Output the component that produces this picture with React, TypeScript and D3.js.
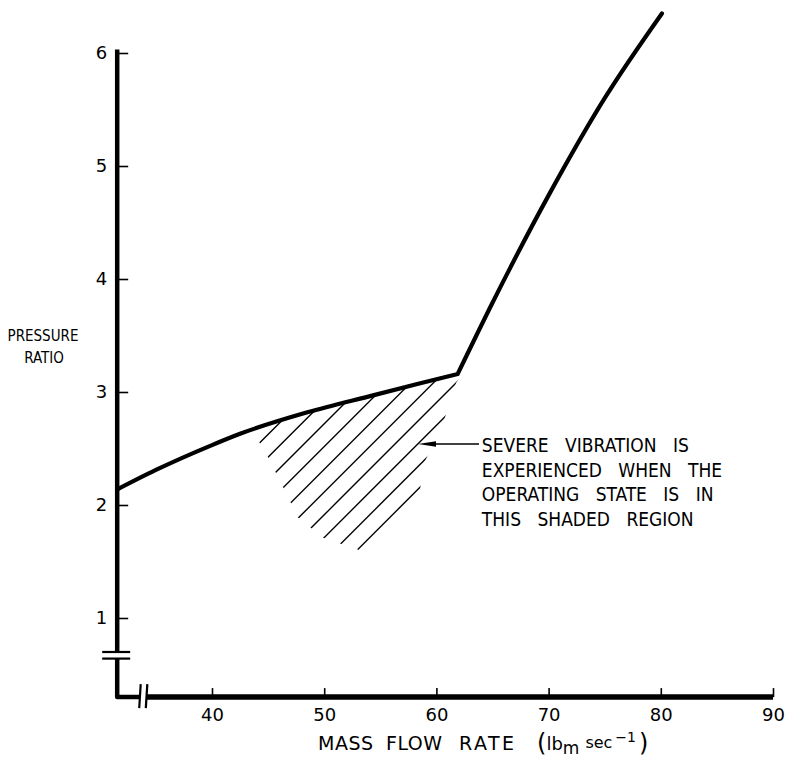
import React, { useRef, useEffect } from 'react';
import * as d3 from 'd3';

const W = 786;
const H = 765;

const xTicks = [40, 50, 60, 70, 80, 90];
const yTicks = [1, 2, 3, 4, 5, 6];

// surge line: the gentle part up to the kink, then the steep part
const lowFlow = [31.6, 35, 40, 42.5, 48.5, 54.35, 58.3, 61.9];
const lowRatio = [2.14, 2.31, 2.53, 2.63, 2.82, 2.97, 3.07, 3.16];
const highFlow = [61.9, 65, 70, 75, 80.1];
const highRatio = [3.16, 3.79, 4.74, 5.6, 6.35];

// outline of the shaded region (hatch is clipped to this and to the curve)
const shadeFlow = [43.83, 44.1, 44.99, 46.33, 47.66, 48.91, 49.89, 51.41, 52.92, 53.37, 58.54, 58.9, 60.68, 61.75, 63.0];
const shadeRatio = [2.93, 2.575, 2.425, 2.16, 1.89, 1.79, 1.71, 1.66, 1.61, 1.575, 2.14, 2.37, 2.75, 3.08, 3.28];
const hatchStart = [44.35, 2.56]; // a point on the first hatch line

const noteLines = ['SEVERE VIBRATION IS', 'EXPERIENCED WHEN THE', 'OPERATING STATE IS IN', 'THIS SHADED REGION'];
const noteAt = [64.05, 2.47];
const arrowTip = [58.36, 2.54];
const arrowTail = [63.8, 2.54];

const xTitleWords = ['MASS', 'FLOW', 'RATE'];

// broken axes
const axisOrigin = [31.55, 0.3];
const xBreak = 33.85;
const yBreak = 0.67;
const yTop = 6.03;

const FONT = '"DejaVu Sans Condensed", "DejaVu Sans", sans-serif';
const FONT_WIDE = '"DejaVu Sans", sans-serif';

const Chart = () => {
  const svgRef = useRef(null);

  useEffect(() => {
    const svg = d3.select(svgRef.current);
    svg.selectAll('*').remove();

    const x = d3.scaleLinear().domain([40, 90]).range([212, 773]);
    const y = d3.scaleLinear().domain([1, 6]).range([618, 53]);

    const x0 = x(axisOrigin[0]);
    const y0 = y(axisOrigin[1]);
    const xb = x(xBreak);
    const yb = y(yBreak);
    const gap = 3.3;

    const low = lowFlow.map((f, i) => [f, lowRatio[i]]);
    const high = highFlow.map((f, i) => [f, highRatio[i]]);

    const defs = svg.append('defs');

    // region under the surge line
    const under = defs.append('clipPath').attr('id', 'under');
    const area = d3.area()
      .x(d => x(d[0]))
      .y0(y0)
      .y1(d => y(d[1]))
      .curve(d3.curveMonotoneX);
    under.append('path').attr('d', area(low));
    under.append('path').attr('d', area(high));

    const shadePts = shadeFlow.map((f, i) => [x(f), y(shadeRatio[i])]);
    defs.append('clipPath').attr('id', 'shade')
      .append('polygon')
      .attr('points', shadePts.map(p => p.join(',')).join(' '));

    // hatching: 45 degree lines, x + y = c in screen space
    const c0 = x(hatchStart[0]) + y(hatchStart[1]);
    const ys = shadePts.map(p => p[1]);
    const cs = shadePts.map(p => p[0] + p[1]);
    const yMin = d3.min(ys) - 5;
    const yMax = d3.max(ys) + 5;
    const step = 22.75;
    const hatch = d3.range(c0, d3.max(cs) + 1, step);

    svg.append('g')
      .attr('clip-path', 'url(#under)')
      .append('g')
      .attr('clip-path', 'url(#shade)')
      .selectAll('line')
      .data(hatch)
      .join('line')
      .attr('x1', c => c - yMax)
      .attr('y1', yMax)
      .attr('x2', c => c - yMin)
      .attr('y2', yMin)
      .attr('stroke', '#000')
      .attr('stroke-width', 1.4);

    // axes lines with breaks
    svg.append('path')
      .attr('d', `M${x0},${y(yTop)}V${yb - gap}M${x0},${yb + gap}V${y0}H${xb - gap}`)
      .attr('fill', 'none')
      .attr('stroke', '#000')
      .attr('stroke-width', 4.5)
      .attr('stroke-linejoin', 'round');
    svg.append('path')
      .attr('d', `M${xb + gap},${y0}H${x(90)}`)
      .attr('stroke', '#000')
      .attr('stroke-width', 5.5);

    // break marks
    svg.append('g')
      .selectAll('line')
      .data([-gap, gap])
      .join('line')
      .attr('x1', x0 - 15)
      .attr('x2', x0 + 13)
      .attr('y1', d => yb + d)
      .attr('y2', d => yb + d)
      .attr('stroke', '#000')
      .attr('stroke-width', 2.2);
    svg.append('g')
      .selectAll('line')
      .data([-gap, gap])
      .join('line')
      .attr('x1', d => xb + d + 1)
      .attr('x2', d => xb + d - 0.5)
      .attr('y1', y0 - 13)
      .attr('y2', y0 + 11)
      .attr('stroke', '#000')
      .attr('stroke-width', 2.2);

    const styleAxis = g => {
      g.select('.domain').remove();
      g.attr('font-family', FONT_WIDE).attr('font-size', 18);
      g.selectAll('line').attr('stroke-width', 1.6);
      g.selectAll('text').attr('fill', '#000');
    };

    svg.append('g')
      .attr('transform', `translate(${x0},0)`)
      .call(d3.axisLeft(y).tickValues(yTicks).tickFormat(d3.format('d')).tickSizeInner(-11).tickSizeOuter(0).tickPadding(10))
      .call(styleAxis);

    svg.append('g')
      .attr('transform', `translate(0,${y0})`)
      .call(d3.axisBottom(x).tickValues(xTicks).tickFormat(d3.format('d')).tickSizeInner(-9).tickSizeOuter(0).tickPadding(11))
      .call(styleAxis);

    // surge line
    const line = d3.line().x(d => x(d[0])).y(d => y(d[1])).curve(d3.curveMonotoneX);
    svg.append('path')
      .attr('d', line(low) + line(high).replace(/^M/, 'L'))
      .attr('fill', 'none')
      .attr('stroke', '#000')
      .attr('stroke-width', 4.2)
      .attr('stroke-linejoin', 'miter')
      .attr('stroke-linecap', 'round');

    // arrow and note
    const tx = x(arrowTip[0]);
    const ty = y(arrowTip[1]);
    svg.append('line')
      .attr('x1', tx + 14)
      .attr('y1', ty)
      .attr('x2', x(arrowTail[0]))
      .attr('y2', y(arrowTail[1]))
      .attr('stroke', '#000')
      .attr('stroke-width', 1.5);
    svg.append('polygon')
      .attr('points', `${tx},${ty} ${tx + 18},${ty - 2.8} ${tx + 18},${ty + 2.8}`)
      .attr('fill', '#000');

    svg.append('g')
      .attr('font-family', FONT)
      .attr('font-size', 19)
      .attr('word-spacing', 11)
      .selectAll('text')
      .data(noteLines)
      .join('text')
      .attr('x', x(noteAt[0]))
      .attr('y', (d, i) => y(noteAt[1]) + i * 24.7)
      .text(d => d);

    // axis titles
    const yTitle = svg.append('text')
      .attr('font-family', FONT)
      .attr('font-size', 15)
      .attr('text-anchor', 'middle');
    yTitle.append('tspan').attr('x', 43).attr('y', 341).text('PRESSURE');
    yTitle.append('tspan').attr('x', 44).attr('y', 363).text('RATIO');

    const xTitle = svg.append('text')
      .attr('y', 750)
      .attr('font-family', FONT_WIDE)
      .attr('font-size', 19);
    const wordX = [318, 386, 459];
    xTitleWords.forEach((w, i) => {
      xTitle.append('tspan')
        .attr('x', wordX[i])
        .attr('letter-spacing', i === 2 ? 2.5 : 0.5)
        .text(w);
    });
    xTitle.append('tspan').attr('x', 537).attr('font-size', 24).attr('dy', 1).text('(');
    xTitle.append('tspan').attr('font-size', 18).attr('dy', -1).text('lb');
    xTitle.append('tspan').attr('font-size', 17).attr('dy', 4).text('m');
    xTitle.append('tspan').attr('font-size', 16).attr('dy', -6).attr('dx', 6).text('sec');
    xTitle.append('tspan').attr('font-size', 14).attr('dy', -6).attr('dx', 3).text('−1');
    xTitle.append('tspan').attr('font-size', 24).attr('dy', 9).attr('dx', 3).text(')');
  }, []);

  return (
    <svg ref={svgRef} width={W} height={H} style={{ display: 'block', background: '#fff' }}>
      {/* drawn by d3 */}
    </svg>
  );
};

export default function App() {
  return (
    <div style={{ position: 'absolute', left: 0, top: 0 }}>
      <Chart />
    </div>
  );
}
